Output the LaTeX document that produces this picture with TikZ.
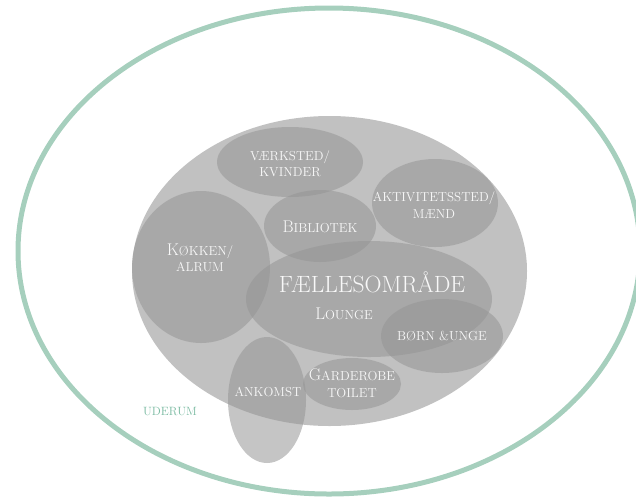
\documentclass[tikz,border=0pt]{standalone}
\usepackage{fontspec}
\newcommand\bigini[1]{{\fontsize{17}{17}\selectfont #1}}
\begin{document}
\begin{tikzpicture}[x=1pt,y=-1pt,
  room/.style={fill=roomgray,fill opacity=0.55},
  lbl/.style={text=labelwhite,align=center,font=\fontsize{13}{16.5}\selectfont,inner sep=0pt},
]
\definecolor{outergreen}{RGB}{166,207,189}
\definecolor{maingray}{RGB}{193,193,193}
\definecolor{roomgray}{RGB}{149,149,149}
\definecolor{labelwhite}{RGB}{248,248,248}
\definecolor{uderumgreen}{RGB}{120,185,160}
\useasboundingbox (0,0) rectangle (636,499);
\clip (0,0) rectangle (636,499);
% outer space
\draw[outergreen,line width=5pt] (329,251) ellipse [x radius=311, y radius=243];
% main common area
\fill[maingray] (329.5,271) ellipse [x radius=197.5, y radius=155];
% rooms
\fill[room] (290,162) ellipse [x radius=73, y radius=35];
\fill[room] (435,203) ellipse [x radius=63, y radius=44];
\fill[room] (320,226) ellipse [x radius=56, y radius=36];
\fill[room] (201,267) ellipse [x radius=69, y radius=76];
\fill[room] (369,299) ellipse [x radius=123, y radius=58];
\fill[room] (442,336) ellipse [x radius=61, y radius=37];
\fill[room] (352,384) ellipse [x radius=49, y radius=26];
\fill[room] (267,400) ellipse [x radius=39, y radius=63];
% labels
\node[lbl] (vaerksted) at (290,164) {VÆRKSTED/\\KVINDER};
\node[lbl] (aktivitet) at (434,205) {AKTIVITETSSTED/\\MÆND};
\node[lbl] (bibliotek) at (320,227) {\bigini{B}IBLIOTEK};
\node[lbl] (koekken) at (200,258) {\bigini{K}ØKKEN/\\ALRUM};
\node[lbl,font=\fontsize{23.5}{25}\selectfont] (faelles) at (372,282) {FÆLLESOMRÅDE};
\node[lbl] (lounge) at (344,314) {\bigini{L}OUNGE};
\node[lbl] (boern) at (442,336) {BØRN \&UNGE};
\node[lbl] (garderobe) at (352,383) {\bigini{G}ARDEROBE\\TOILET};
\node[lbl] (ankomst) at (268,392) {ANKOMST};
\node[lbl,text=uderumgreen,font=\fontsize{12}{13}\selectfont\addfontfeatures{LetterSpace=12}] (uderum) at (170,412) {UDERUM};
\end{tikzpicture}
\end{document}
